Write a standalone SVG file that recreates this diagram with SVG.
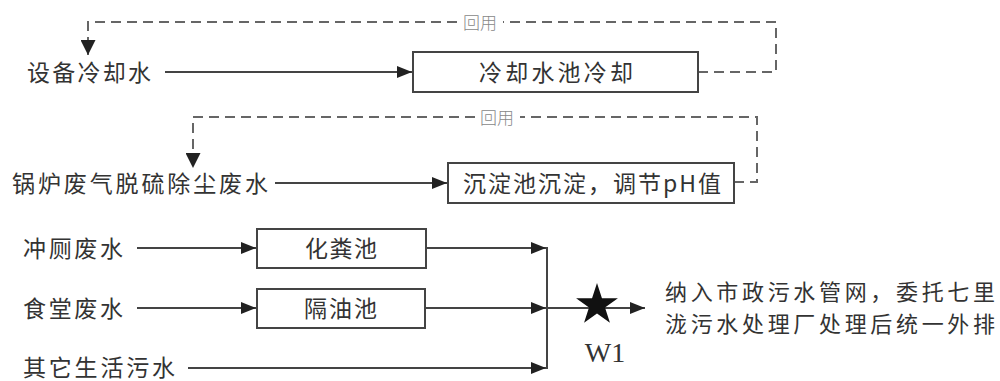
<svg xmlns="http://www.w3.org/2000/svg" width="1000" height="381" viewBox="0 0 1000 381">
<style>
  .t { font-family: "Noto Sans CJK SC", "Liberation Sans", sans-serif; font-size: 23px; fill: #333; }
  .t2 { font-family: "Noto Sans CJK SC", "Liberation Sans", sans-serif; font-size: 22px; fill: #333; }
  .lbl { font-family: "Noto Sans CJK SC", "Liberation Sans", sans-serif; font-size: 17px; fill: #888; font-weight: 300; }
  .box { fill: #fff; stroke: #444; stroke-width: 2; }
  .ln { fill: none; stroke: #444; stroke-width: 2; }
  .dash { fill: none; stroke: #666; stroke-width: 2; stroke-dasharray: 10 6; }
  .w { font-family: "Liberation Serif", serif; font-size: 28px; fill: #333; }
</style>
<defs>
  <marker id="arr" markerUnits="userSpaceOnUse" markerWidth="15" markerHeight="12" refX="15" refY="6" orient="auto">
    <path d="M0,0 L15,6 L0,12 z" fill="#222"/>
  </marker>
  <marker id="arrD" markerUnits="userSpaceOnUse" markerWidth="15" markerHeight="15" refX="15" refY="7.5" orient="auto">
    <path d="M0,0 L15,7.5 L0,15 z" fill="#222"/>
  </marker>
</defs>

<g id="connectors">
  <!-- recycle 1 -->
  <path class="dash" d="M698,72 H776 V22 H503"/>
  <path class="dash" d="M457,22 H88 V55" marker-end="url(#arrD)"/>
  <!-- recycle 2 -->
  <path class="dash" d="M734,182 H757 V117 H520"/>
  <path class="dash" d="M475,117 H193 V168" marker-end="url(#arrD)"/>
  <!-- inputs -->
  <line class="ln" x1="165" y1="72" x2="412" y2="72" marker-end="url(#arr)"/>
  <line class="ln" x1="275" y1="183" x2="447" y2="183" marker-end="url(#arr)"/>
  <line class="ln" x1="137" y1="248" x2="256" y2="248" marker-end="url(#arr)"/>
  <line class="ln" x1="137" y1="308" x2="256" y2="308" marker-end="url(#arr)"/>
  <!-- merge -->
  <line class="ln" x1="426" y1="248" x2="546" y2="248" marker-end="url(#arr)"/>
  <line class="ln" x1="425" y1="308" x2="546" y2="308" marker-end="url(#arr)"/>
  <line class="ln" x1="188" y1="368" x2="546" y2="368" marker-end="url(#arr)"/>
  <line class="ln" x1="547" y1="247" x2="547" y2="369"/>
  <line class="ln" x1="547" y1="308" x2="645" y2="308" marker-end="url(#arr)"/>
  <text class="lbl" x="480" y="28.5" text-anchor="middle">回用</text>
  <text class="lbl" x="497" y="123.5" text-anchor="middle">回用</text>
</g>

<g id="src-cooling">
  <text class="t" x="27" y="80.5" textLength="124" lengthAdjust="spacing">设备冷却水</text>
</g>
<g id="cooling-pool">
  <rect class="box" x="413" y="52" width="285" height="40"/>
  <text class="t" x="479" y="80.5" textLength="154" lengthAdjust="spacing">冷却水池冷却</text>
</g>

<g id="src-boiler">
  <text class="t" x="12" y="191.5" textLength="256" lengthAdjust="spacing">锅炉废气脱硫除尘废水</text>
</g>
<g id="sedimentation">
  <rect class="box" x="448" y="163" width="286" height="40"/>
  <text class="t" x="463" y="191.5" textLength="258" lengthAdjust="spacing">沉淀池沉淀，调节pH值</text>
</g>

<g id="src-toilet">
  <text class="t" x="23" y="256.5" textLength="100" lengthAdjust="spacing">冲厕废水</text>
</g>
<g id="septic-tank">
  <rect class="box" x="257" y="229" width="169" height="39"/>
  <text class="t" x="305" y="256.5" textLength="72" lengthAdjust="spacing">化粪池</text>
</g>

<g id="src-canteen">
  <text class="t" x="23" y="316.5" textLength="100" lengthAdjust="spacing">食堂废水</text>
</g>
<g id="grease-trap">
  <rect class="box" x="257" y="289" width="168" height="39"/>
  <text class="t" x="304" y="316.5" textLength="73" lengthAdjust="spacing">隔油池</text>
</g>

<g id="src-other">
  <text class="t" x="23" y="376" textLength="152" lengthAdjust="spacing">其它生活污水</text>
</g>

<g id="w1">
  <path d="M597,283 L601.94,298.2 L617.92,298.2 L604.99,307.6 L609.93,322.8 L597,313.4 L584.07,322.8 L589.01,307.6 L576.08,298.2 L592.06,298.2 Z" fill="#111"/>
  <text class="w" x="605" y="362" text-anchor="middle">W1</text>
</g>

<g id="discharge">
  <text class="t2" x="665" y="299.5" textLength="330" lengthAdjust="spacing">纳入市政污水管网，委托七里</text>
  <text class="t2" x="665" y="332" textLength="330" lengthAdjust="spacing">泷污水处理厂处理后统一外排</text>
</g>
</svg>
